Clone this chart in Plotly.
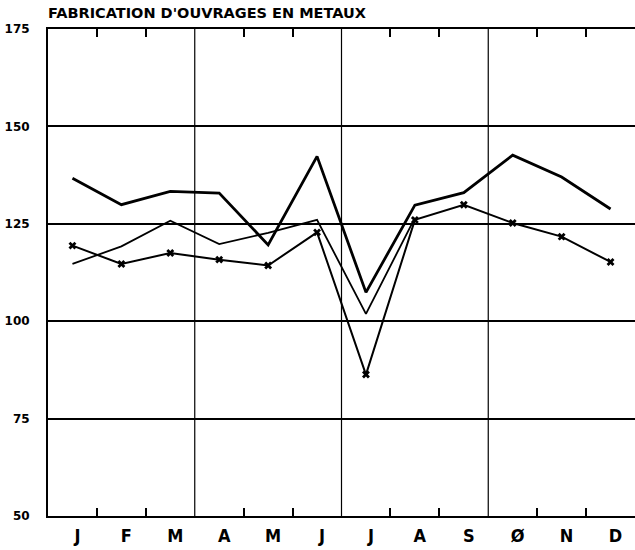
import plotly.graph_objects as go

months = ["J", "F", "M", "A", "M", "J", "J", "A", "S", "Ø", "N", "D"]
thick_series = [136.7, 129.9, 133.3, 132.9, 119.6, 142.3, 107.4, 129.8, 133.0, 142.6, 137.0, 128.8]
thin_series = [114.7, 119.2, 125.8, 119.8, 122.7, 126.0, 101.9, 126.5]
cross_series = [119.4, 114.7, 117.5, 115.8, 114.3, 122.8, 86.3, 126.0, 129.9, 125.2, 121.7, 115.2]
y_ticks = [50, 75, 100, 125, 150, 175]
title_text = "FABRICATION D'OUVRAGES EN METAUX"

xpos = [i + 0.5 for i in range(len(months))]

fig = go.Figure()
fig.add_trace(go.Scatter(x=xpos[:len(thin_series)], y=thin_series, mode="lines",
                         line=dict(color="black", width=1.8), showlegend=False))
fig.add_trace(go.Scatter(x=xpos, y=cross_series, mode="lines+markers",
                         line=dict(color="black", width=2),
                         marker=dict(symbol="x", size=7, color="black"),
                         showlegend=False))
fig.add_trace(go.Scatter(x=xpos, y=thick_series, mode="lines",
                         line=dict(color="black", width=2.8), showlegend=False))

# top tick marks
fig.add_trace(go.Scatter(x=[None], y=[None], xaxis="x2", showlegend=False))

for v in [3, 6, 9]:
    fig.add_shape(type="line", x0=v, x1=v, y0=0, y1=1, xref="x", yref="paper",
                  line=dict(color="black", width=1.2), layer="below")

fig.update_layout(
    width=635, height=550,
    margin=dict(l=48, r=0, t=29, b=34, autoexpand=False),
    paper_bgcolor="white", plot_bgcolor="white",
    title=dict(text=title_text, x=48 / 635, xanchor="left", y=1 - 13 / 550, yanchor="middle",
               automargin=False,
               font=dict(family="DejaVu Sans", size=14.5, color="black", weight="bold")),
    xaxis=dict(range=[0, 12], tickvals=xpos, ticktext=months, ticks="", automargin=False,
               showgrid=False, zeroline=False, showline=True, linecolor="black", linewidth=2,
               mirror=True, ticklabelshift=5, ticklabelstandoff=2,
               tickfont=dict(family="Liberation Sans Narrow, DejaVu Sans Condensed, Liberation Sans",
                             size=18, color="black", weight="bold"),
               minor=dict(tickvals=[1, 2, 4, 5, 7, 8, 10, 11], ticks="inside", ticklen=8,
                          tickcolor="black", tickwidth=1.5, showgrid=False)),
    xaxis2=dict(range=[0, 12], overlaying="x", side="top", tickvals=[1, 2, 4, 5, 7, 8, 10, 11],
                ticks="inside", ticklen=8, tickcolor="black", tickwidth=1.5, automargin=False,
                showticklabels=False, showgrid=False, zeroline=False, showline=False),
    yaxis=dict(range=[50, 175], tickvals=y_ticks, ticks="", showgrid=True, automargin=False,
               gridcolor="black", gridwidth=2, zeroline=False, showline=True,
               linecolor="black", linewidth=2, ticklabelstandoff=14,
               tickfont=dict(family="DejaVu Sans", size=12, color="black", weight="bold")),
)

fig.write_html("out.html", config={"displayModeBar": False},
               post_script="document.body.style.margin='0';document.body.style.overflow='hidden';")
